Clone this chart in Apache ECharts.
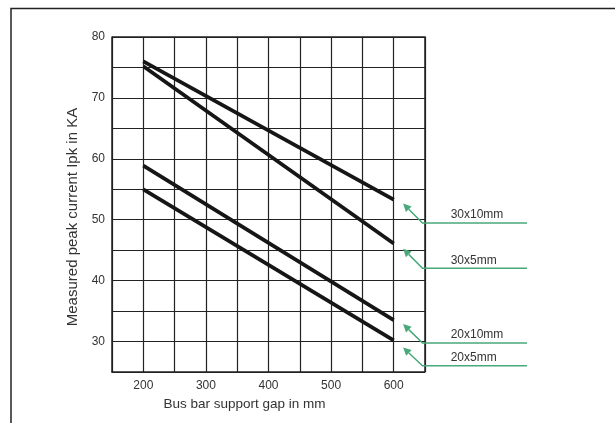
<!DOCTYPE html>
<html><head><meta charset="utf-8">
<script src="https://cdn.jsdelivr.net/npm/echarts@6/dist/echarts.min.js"></script>
<style>html,body{margin:0;padding:0;background:#fff}#c{width:615px;height:423px}</style>
</head><body><div id="c"></div>
<script>
const xTicks = [200, 300, 400, 500, 600];
const gapsMm = [200, 600];
const s30x10 = [76.0, 53.3];
const s30x5 = [75.2, 46.1];
const s20x10 = [58.9, 33.5];
const s20x5 = [55.0, 30.2];
const seriesNames = ['30x10mm', '30x5mm', '20x10mm', '20x5mm'];
const seriesData = [s30x10, s30x5, s20x10, s20x5];
// annotation anchor values (data units): arrow head y, elbow y
const annHeadY = [52.65, 45.24, 32.88, 29.03];
const annElbowY = [49.45, 42.04, 29.75, 26.01];
const annHeadX = 615, annElbowX = 646, annEndX = 813, annLabelX = 691;

const chart = echarts.init(document.getElementById('c'));
const font = 'Liberation Sans, Arial, sans-serif';
chart.setOption({
  animation: false,
  grid: {left: 112, right: 190, top: 37, bottom: 51},
  xAxis: {
    type: 'value', min: 150, max: 650, interval: 50,
    axisLine: {lineStyle: {color: '#222', width: 1.5}},
    axisTick: {show: false},
    splitLine: {show: true, lineStyle: {color: '#222', width: 1.2}},
    axisLabel: {color: '#333', fontSize: 12, fontFamily: font, margin: 8,
      formatter: v => xTicks.includes(v) ? String(v) : ''},
    name: 'Bus bar support gap in mm', nameLocation: 'middle', nameGap: 21,
    nameTextStyle: {color: '#333', fontSize: 13.5, fontFamily: font, padding: [0, 48, 0, 0]}
  },
  yAxis: {
    type: 'value', min: 25, max: 80, interval: 5,
    axisLine: {show: true, lineStyle: {color: '#222', width: 1.5}},
    axisTick: {show: false},
    splitLine: {show: true, lineStyle: {color: '#222', width: 1.2}},
    axisLabel: {color: '#333', fontSize: 12, fontFamily: font, margin: 7,
      formatter: v => (v % 10 === 0 ? String(v) : '')},
    name: 'Measured peak current Ipk in KA', nameLocation: 'middle', nameGap: 23,
    nameTextStyle: {color: '#333', fontSize: 15, fontFamily: font, padding: [0, 25, 0, 0]}
  },
  series: seriesData.map((d, i) => ({
    name: seriesNames[i], type: 'line', showSymbol: false, symbol: 'none',
    data: gapsMm.map((g, j) => [g, d[j]]),
    lineStyle: {color: '#161616', width: 3.8}
  }))
});
const tr = chart.convertToPixel({gridIndex: 0}, [650, 80]);
const bl = chart.convertToPixel({gridIndex: 0}, [150, 25]);
const graphics = [
  {type: 'polyline', shape: {points: [[11, 423], [11, 8.5], [615, 8.5]]}, style: {stroke: '#222', lineWidth: 1.5, fill: null}},
  {type: 'polyline', shape: {points: [[bl[0], tr[1]], [tr[0], tr[1]], [tr[0], bl[1]]]}, style: {stroke: '#222', lineWidth: 1.5, fill: null}}
];
const green = '#4aa87a';
seriesNames.forEach((nm, i) => {
  const h = chart.convertToPixel({gridIndex: 0}, [annHeadX, annHeadY[i]]);
  const e = chart.convertToPixel({gridIndex: 0}, [annElbowX, annElbowY[i]]);
  const en = chart.convertToPixel({gridIndex: 0}, [annEndX, annElbowY[i]]);
  const lb = chart.convertToPixel({gridIndex: 0}, [annLabelX, annElbowY[i]]);
  const dx = h[0] - e[0], dy = h[1] - e[1], L = Math.hypot(dx, dy);
  const ux = dx / L, uy = dy / L, px = -uy, py = ux;
  const aLen = 8, aW = 4;
  const base = [h[0] - ux * aLen, h[1] - uy * aLen];
  graphics.push({type: 'polyline', shape: {points: [en, e, base]}, style: {stroke: green, lineWidth: 1.5, fill: null}});
  graphics.push({type: 'polygon', shape: {points: [h, [base[0] + px * aW, base[1] + py * aW], [base[0] - px * aW, base[1] - py * aW]]}, style: {fill: green}});
  graphics.push({type: 'text', x: lb[0], y: lb[1] - 2, style: {text: nm, fill: '#333', font: '12px ' + font, textAlign: 'left', textVerticalAlign: 'bottom'}});
});
chart.setOption({graphic: graphics});
</script></body></html>
